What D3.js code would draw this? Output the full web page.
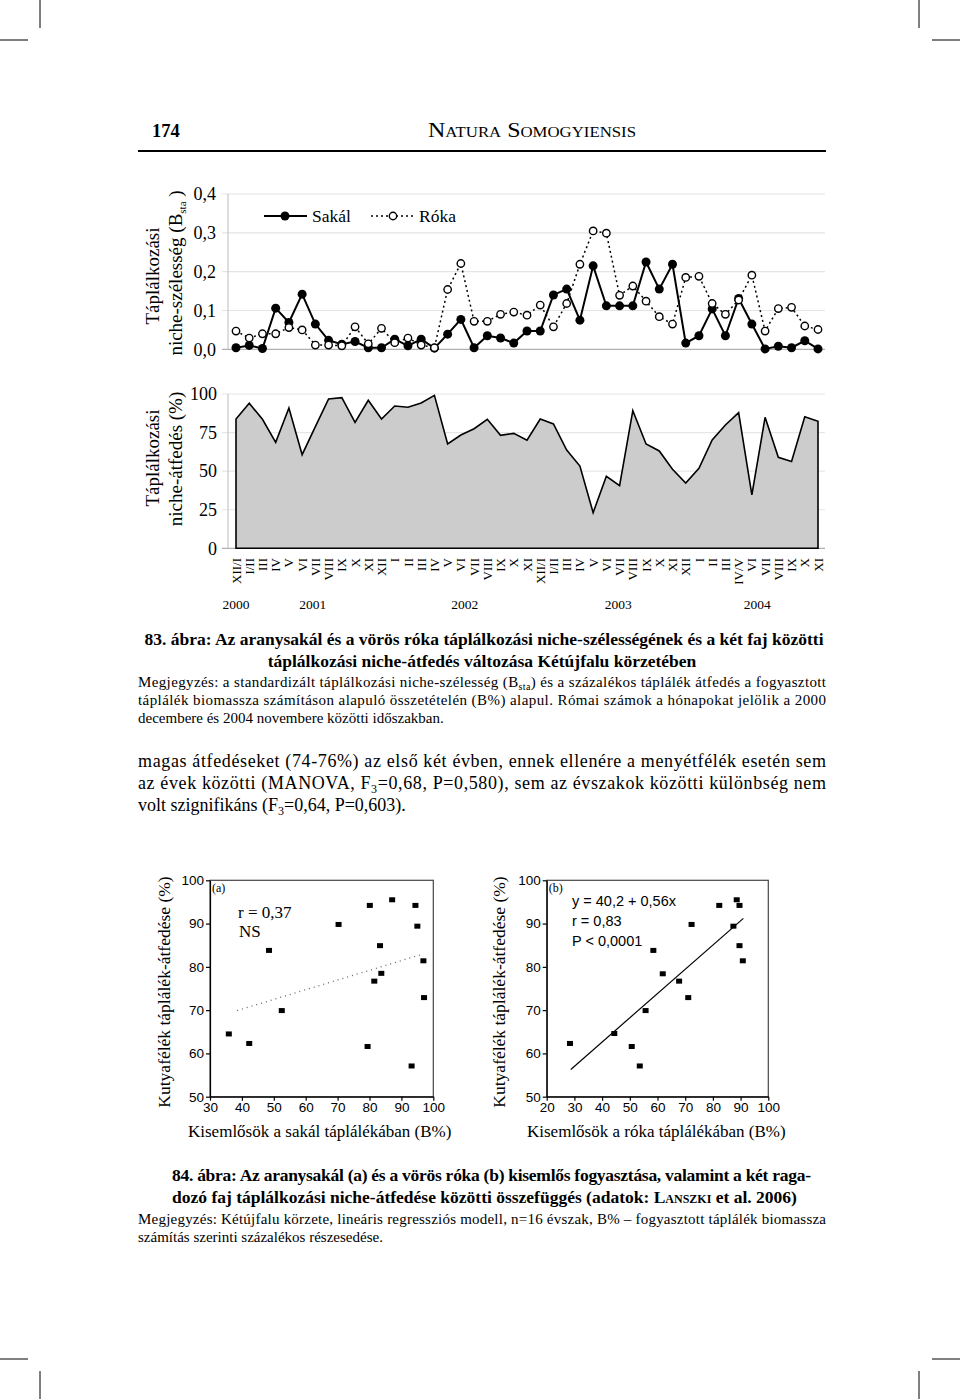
<!DOCTYPE html>
<html><head><meta charset="utf-8">
<script src="https://cdn.jsdelivr.net/npm/d3@7"></script>
<style>body{margin:0;background:#fff}svg{display:block}</style>
</head><body>
<svg id="c" width="960" height="1399"></svg>
<script>
// ---------- DATA ----------
const months = ["XII/I","I/II","III","IV","V","VI","VII","VIII","IX","X","XI","XII","I","II","III","IV","V","VI","VII","VIII","IX","X","XI","XII/I","I/II","III","IV","V","VI","VII","VIII","IX","X","XI","XII","I","II","III","IV/V","VI","VII","VIII","IX","X","XI"];
const years = ["2000","2001","2002","2003","2004"];
const yearAnchor = [0, 5.8, 17.3, 28.9, 39.4];
const sakal = [0.004,0.010,0.002,0.106,0.069,0.142,0.065,0.023,0.013,0.020,0.004,0.004,0.026,0.009,0.026,0.003,0.039,0.077,0.004,0.035,0.029,0.016,0.047,0.047,0.140,0.155,0.075,0.215,0.112,0.112,0.112,0.225,0.155,0.219,0.016,0.035,0.104,0.035,0.131,0.065,0.001,0.008,0.004,0.022,0.001];
const roka = [0.047,0.029,0.040,0.040,0.056,0.050,0.011,0.011,0.009,0.058,0.014,0.054,0.017,0.029,0.011,0.004,0.154,0.221,0.072,0.072,0.090,0.096,0.088,0.114,0.058,0.118,0.219,0.305,0.299,0.139,0.163,0.124,0.084,0.065,0.185,0.188,0.118,0.090,0.127,0.191,0.047,0.105,0.108,0.060,0.051];
const overlap = [83.8,94.0,83.6,68.7,90.9,60.7,78.8,96.8,97.6,81.6,95.9,83.8,92.2,91.4,94.2,99.1,67.6,73.4,77.5,83.6,73.2,74.5,70.0,83.8,80.6,63.7,53.3,23.1,46.7,40.6,89.2,67.6,63.1,51.2,42.3,51.8,70.2,79.9,87.9,34.6,84.9,59.0,56.2,85.3,82.3];
const bTicks = [0,0.1,0.2,0.3,0.4];
const oTicks = [0,25,50,75,100];
const seriesNames = ["Sakál","Róka"];

const aX = [35.9,42.3,48.5,52.5,70.3,80.1,79.4,81.5,83.3,83.7,87.1,94.4,95.0,96.9,97.1,93.2];
const aY = [64.5,62.3,83.8,69.9,89.8,94.2,61.6,76.7,84.9,78.5,95.5,94.2,89.4,81.4,72.9,57.1];
const bX = [28.4,44.4,55.7,50.7,53.6,58.5,61.9,67.8,71.1,72.3,82.3,88.6,89.6,87.4,89.6,90.8];
const bY = [62.3,64.6,69.9,61.6,57.1,83.8,78.4,76.7,72.9,89.8,94.2,95.5,94.2,89.4,84.9,81.4];
const regA = [[38.5,69.9],[96.5,82.9]];
const regB = [[28.7,56.3],[91.0,91.2]];
const scTicksY = [50,60,70,80,90,100];
const scTicksXA = [30,40,50,60,70,80,90,100];
const scTicksXB = [20,30,40,50,60,70,80,90,100];

// ---------- DRAW ----------
const svg = d3.select("#c");
const SERIF = "'Liberation Serif','Times New Roman',serif";
const SANS = "'Liberation Sans',Arial,sans-serif";

// crop marks
const crop = svg.append("g").attr("stroke","#000").attr("stroke-width",1);
[[40,0,40,28],[0,40,28,40],[919,0,919,28],[932,40,960,40],[40,1371,40,1399],[0,1359,28,1359],[919,1371,919,1399],[932,1359,960,1359]]
 .forEach(l=>crop.append("line").attr("x1",l[0]).attr("y1",l[1]).attr("x2",l[2]).attr("y2",l[3]));

// header
svg.append("text").attr("x",152).attr("y",137).attr("font-family",SERIF).attr("font-weight","bold").attr("font-size",18.5).text("174");
svg.append("text").attr("x",428).attr("y",137).attr("font-family",SERIF).attr("font-size",20).attr("font-variant","small-caps")
  .attr("textLength",208).attr("lengthAdjust","spacingAndGlyphs").text("Natura Somogyiensis");
svg.append("line").attr("x1",138).attr("x2",826).attr("y1",151).attr("y2",151).attr("stroke","#000").attr("stroke-width",2);

// ---- top chart: niche breadth ----
const xIdx = d3.scaleLinear().domain([0, months.length-1]).range([236, 818]);
const yB = d3.scaleLinear().domain([0,0.4]).range([349.3,194]);
const g1 = svg.append("g");
bTicks.forEach(t=>{
  g1.append("line").attr("x1",222).attr("x2",825).attr("y1",yB(t)).attr("y2",yB(t))
    .attr("stroke", t===0?"#b0b0b0":"#e4e4e4").attr("stroke-width",1.2);
  g1.append("text").attr("x",216).attr("y",yB(t)).attr("dy","0.35em").attr("text-anchor","end")
    .attr("font-family",SERIF).attr("font-size",18).text(t.toFixed(1).replace(".",","));
});
g1.append("line").attr("x1",228).attr("x2",228).attr("y1",yB(0.4)).attr("y2",yB(0)).attr("stroke","#c8c8c8").attr("stroke-width",1.2);
const line = d3.line().x((d,i)=>xIdx(i)).y(d=>yB(d));
g1.append("path").attr("d",line(sakal)).attr("fill","none").attr("stroke","#000").attr("stroke-width",2);
g1.append("path").attr("d",line(roka)).attr("fill","none").attr("stroke","#000").attr("stroke-width",1.5).attr("stroke-dasharray","2,3");
g1.selectAll("circle.s").data(sakal).enter().append("circle").attr("cx",(d,i)=>xIdx(i)).attr("cy",d=>yB(d)).attr("r",4.5).attr("fill","#000");
g1.selectAll("circle.r").data(roka).enter().append("circle").attr("cx",(d,i)=>xIdx(i)).attr("cy",d=>yB(d)).attr("r",3.7).attr("fill","#fff").attr("stroke","#000").attr("stroke-width",1.4);
// legend
g1.append("line").attr("x1",264).attr("x2",307).attr("y1",216).attr("y2",216).attr("stroke","#000").attr("stroke-width",2);
g1.append("circle").attr("cx",285).attr("cy",216).attr("r",4.5).attr("fill","#000");
g1.append("text").attr("x",312).attr("y",222).attr("font-family",SERIF).attr("font-size",17.5).text(seriesNames[0]);
g1.append("line").attr("x1",371).attr("x2",415).attr("y1",216).attr("y2",216).attr("stroke","#000").attr("stroke-width",1.5).attr("stroke-dasharray","2,3");
g1.append("circle").attr("cx",393).attr("cy",216).attr("r",3.7).attr("fill","#fff").attr("stroke","#000").attr("stroke-width",1.4);
g1.append("text").attr("x",419).attr("y",222).attr("font-family",SERIF).attr("font-size",17.5).text(seriesNames[1]);
// y titles
g1.append("text").attr("transform","translate(152,276) rotate(-90)").attr("dy","0.35em").attr("text-anchor","middle").attr("font-family",SERIF).attr("font-size",19).text("Táplálkozási");
const t2 = g1.append("text").attr("transform","translate(175,273) rotate(-90)").attr("dy","0.35em").attr("text-anchor","middle").attr("font-family",SERIF).attr("font-size",19);
t2.append("tspan").text("niche-szélesség  (B");
t2.append("tspan").attr("font-size",11).attr("dy",4).text("sta");
t2.append("tspan").attr("dy",-4).text(" )");

// ---- area chart: overlap ----
const yO = d3.scaleLinear().domain([0,100]).range([548.3,394]);
const g2 = svg.append("g");
oTicks.forEach(t=>{
  g2.append("line").attr("x1",222).attr("x2",825).attr("y1",yO(t)).attr("y2",yO(t))
    .attr("stroke", t===0?"#b0b0b0":"#e6e6e6").attr("stroke-width",1.2);
  g2.append("text").attr("x",217).attr("y",yO(t)).attr("dy","0.35em").attr("text-anchor","end")
    .attr("font-family",SERIF).attr("font-size",18).text(t);
});
g2.append("line").attr("x1",228).attr("x2",228).attr("y1",yO(100)).attr("y2",yO(0)).attr("stroke","#c8c8c8").attr("stroke-width",1.2);
const area = d3.area().x((d,i)=>xIdx(i)).y0(yO(0)).y1(d=>yO(d));
g2.append("path").attr("d", area(overlap)+"Z").attr("fill","#cccccc").attr("stroke","#000").attr("stroke-width",1.6).attr("stroke-linejoin","miter");
g2.append("text").attr("transform","translate(152,458) rotate(-90)").attr("dy","0.35em").attr("text-anchor","middle").attr("font-family",SERIF).attr("font-size",19).text("Táplálkozási");
g2.append("text").attr("transform","translate(175,459) rotate(-90)").attr("dy","0.35em").attr("text-anchor","middle").attr("font-family",SERIF).attr("font-size",19).text("niche-átfedés  (%)");
// month labels
months.forEach((m,i)=>{
  g2.append("text").attr("transform",`translate(${xIdx(i)},558) rotate(-90)`).attr("dy","0.35em").attr("text-anchor","end")
    .attr("font-family",SERIF).attr("font-size",13).text(m);
});
years.forEach((y,i)=>{
  g2.append("text").attr("x",xIdx(yearAnchor[i])).attr("y",609).attr("text-anchor","middle").attr("font-family",SERIF).attr("font-size",13.5).text(y);
});

// ---- caption 83 ----
function t(x,y,size,opts){ const e=svg.append("text").attr("x",x).attr("y",y).attr("font-family",SERIF).attr("font-size",size); if(opts){for(const k in opts) e.attr(k,opts[k]);} return e;}
t(484,645,17.5,{"font-weight":"bold","text-anchor":"middle"}).text("83. ábra: Az aranysakál és a vörös róka táplálkozási niche-szélességének és a két faj közötti");
t(482,667,17.5,{"font-weight":"bold","text-anchor":"middle"}).text("táplálkozási niche-átfedés változása Kétújfalu körzetében");
{
  const e = t(138,687,15,{"textLength":688,"lengthAdjust":"spacing"});
  e.append("tspan").text("Megjegyzés: a standardizált táplálkozási niche-szélesség (B");
  e.append("tspan").attr("font-size",10).attr("dy",3).text("sta");
  e.append("tspan").attr("dy",-3).text(") és a százalékos táplálék átfedés a fogyasztott");
}
t(138,705,15,{"textLength":688,"lengthAdjust":"spacing"}).text("táplálék biomassza számításon alapuló összetételén (B%) alapul. Római számok a hónapokat jelölik a 2000");
t(138,723,15).text("decembere és 2004 novembere közötti időszakban.");

// ---- body text ----
t(138,767,18,{"textLength":688,"lengthAdjust":"spacing"}).text("magas átfedéseket (74-76%) az első két évben, ennek ellenére a menyétfélék esetén sem");
{
  const e = t(138,789,18,{"textLength":688,"lengthAdjust":"spacing"});
  e.append("tspan").text("az évek közötti (MANOVA, F");
  e.append("tspan").attr("font-size",12).attr("dy",4).text("3");
  e.append("tspan").attr("dy",-4).text("=0,68, P=0,580), sem az évszakok közötti különbség nem");
}
{
  const e = t(138,811,18);
  e.append("tspan").text("volt szignifikáns (F");
  e.append("tspan").attr("font-size",12).attr("dy",4).text("3");
  e.append("tspan").attr("dy",-4).text("=0,64, P=0,603).");
}

// ---- scatter plots ----
const sy = d3.scaleLinear().domain([50,100]).range([1096.7,880.3]);
function scatter(xs, ys, reg, sx, ticksX, dotted, label, xTitle, xTitleStart, yTitleX){
  const g = svg.append("g");
  const x0=sx.range()[0], x1=sx.range()[1];
  g.append("rect").attr("x",x0).attr("y",sy(100)).attr("width",x1-x0).attr("height",sy(50)-sy(100)).attr("fill","none").attr("stroke","#444").attr("stroke-width",1.2);
  const ax = g.append("g").attr("transform",`translate(0,${sy(50)})`).call(d3.axisBottom(sx).tickValues(ticksX).tickSize(4).tickSizeOuter(0));
  const ay = g.append("g").attr("transform",`translate(${x0},0)`).call(d3.axisLeft(sy).tickValues(scTicksY).tickSize(4).tickSizeOuter(0));
  [ax,ay].forEach(a=>{a.selectAll("text").attr("font-family",SANS).attr("font-size",13.5).attr("fill","#000");
    a.selectAll("line,path").attr("stroke","#000").attr("stroke-width",1.2);});
  ax.selectAll("text").attr("dy","0.6em");
  ay.selectAll("text").attr("x",-6);
  const rl = g.append("line").attr("x1",sx(reg[0][0])).attr("y1",sy(reg[0][1])).attr("x2",sx(reg[1][0])).attr("y2",sy(reg[1][1]));
  if(dotted) rl.attr("stroke","#666").attr("stroke-width",1.3).attr("stroke-dasharray","1,4");
  else rl.attr("stroke","#000").attr("stroke-width",1.2);
  g.selectAll("rect.p").data(xs).enter().append("rect")
    .attr("x",(d)=>sx(d)-3).attr("y",(d,i)=>sy(ys[i])-2.5).attr("width",6).attr("height",5).attr("fill","#000");
  g.append("text").attr("x",x0+2).attr("y",892).attr("font-family",SERIF).attr("font-size",12).text(label);
  g.append("text").attr("x",xTitleStart).attr("y",1137).attr("font-family",SERIF).attr("font-size",17).text(xTitle);
  g.append("text").attr("transform",`translate(${yTitleX},992) rotate(-90)`).attr("dy","0.35em").attr("text-anchor","middle").attr("font-family",SERIF).attr("font-size",17.5).text("Kutyafélék táplálék-átfedése (%)");
  return g;
}
const sxA = d3.scaleLinear().domain([30,100]).range([210,433.3]);
const sxB = d3.scaleLinear().domain([20,100]).range([546.7,768.3]);
const ga = scatter(aX,aY,regA,sxA,scTicksXA,true,"(a)","Kisemlősök a sakál táplálékában (B%)",188,164);
ga.append("text").attr("x",238).attr("y",918).attr("font-family",SERIF).attr("font-size",17).text("r = 0,37");
ga.append("text").attr("x",239).attr("y",937).attr("font-family",SERIF).attr("font-size",17).text("NS");
const gb = scatter(bX,bY,regB,sxB,scTicksXB,false,"(b)","Kisemlősök a róka táplálékában (B%)",527,499);
gb.append("text").attr("x",572).attr("y",906).attr("font-family",SANS).attr("font-size",14.5).text("y = 40,2 + 0,56x");
gb.append("text").attr("x",572).attr("y",926).attr("font-family",SANS).attr("font-size",14.5).text("r = 0,83");
gb.append("text").attr("x",572).attr("y",946).attr("font-family",SANS).attr("font-size",14.5).text("P < 0,0001");

// ---- caption 84 ----
t(172,1181,17.5,{"font-weight":"bold","textLength":639,"lengthAdjust":"spacing"}).text("84. ábra: Az aranysakál (a) és a vörös róka (b) kisemlős fogyasztása, valamint a két raga-");
{
  const e = t(172,1203,17.5,{"font-weight":"bold"});
  e.append("tspan").text("dozó faj táplálkozási niche-átfedése közötti összefüggés (adatok: ");
  e.append("tspan").attr("font-variant","small-caps").text("Lanszki");
  e.append("tspan").text(" et al. 2006)");
}
t(138,1224,15,{"textLength":688,"lengthAdjust":"spacing"}).text("Megjegyzés: Kétújfalu körzete, lineáris regressziós modell, n=16 évszak, B% – fogyasztott táplálék biomassza");
t(138,1242,15).text("számítás szerinti százalékos részesedése.");
</script>
</body></html>
